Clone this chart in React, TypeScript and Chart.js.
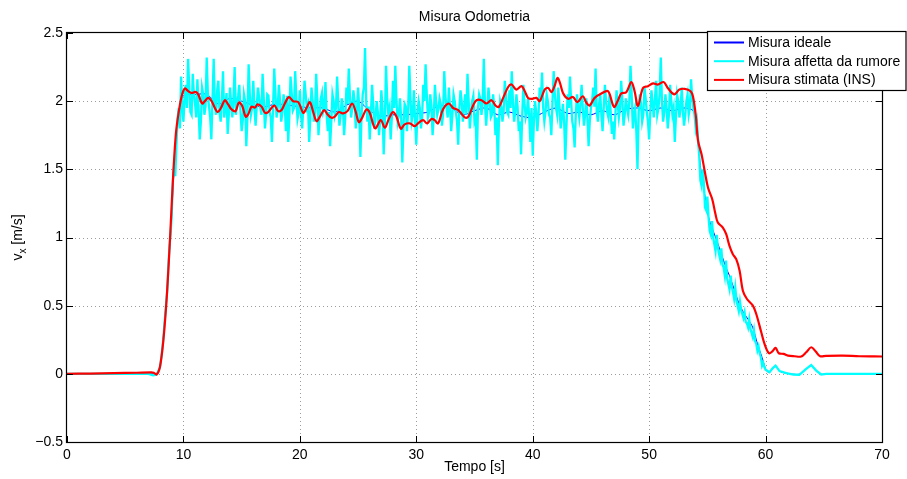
import { useEffect, useRef } from 'react';
import { Chart, registerables } from 'chart.js';

Chart.register(...registerables);

// Axis ticks
const xTicks = [0, 10, 20, 30, 40, 50, 60, 70];
const yTicks = [-0.5, 0, 0.5, 1, 1.5, 2, 2.5];
const yTickLabels = ['\u22120.5', '0', '0.5', '1', '1.5', '2', '2.5'];

const titleText = 'Misura Odometria';
const xTitle = 'Tempo [s]';
const seriesNames = ['Misura ideale', 'Misura affetta da rumore', 'Misura stimata (INS)'];
const seriesColors = ['#0000ff', '#00ffff', '#ff0000'];

// Ideal velocity [m/s]
const tempoIdeale = [
  0, 7.5, 7.8, 8.0, 8.2, 8.4, 8.6, 8.8, 9.0, 9.2, 9.4, 9.6, 9.8, 10.0, 10.5,
  11, 12, 13, 14, 15, 16, 17, 18, 19, 20, 21, 22, 23, 24, 25, 26, 27, 28, 29, 30,
  31, 32, 33, 34, 35, 36, 37, 38, 39, 40, 41, 42, 43, 44, 45, 46, 47, 48, 49, 50,
  51, 52, 53, 53.8, 54.0, 54.25, 54.45, 54.8, 55.1, 55.4, 55.8, 56.2, 56.6, 56.9,
  57.3, 57.7, 58.1, 58.5, 58.9, 59.3, 59.7, 60.06, 60.34, 60.86, 61.2, 61.77, 62.9,
  63.49, 63.92, 64.35, 64.78, 65.2, 70,
];
const misuraIdeale = [
  0, 0, 0.01, 0.06, 0.2, 0.39, 0.62, 0.9, 1.2, 1.5, 1.73, 1.9, 2.0, 2.04, 2.05,
  2.05, 2.05, 1.98, 2.02, 2.0, 1.97, 1.96, 1.98, 1.97, 1.96, 1.95, 1.95, 1.92, 1.97, 2.0, 1.93, 1.89, 1.9, 1.9, 1.91,
  1.92, 1.97, 1.95, 1.9, 1.93, 1.95, 1.9, 1.92, 1.89, 1.88, 1.92, 1.95, 1.91, 1.92, 1.9, 1.93, 1.9, 1.94, 1.95, 1.93,
  1.95, 1.93, 1.95, 1.93, 1.85, 1.65, 1.49, 1.3, 1.15, 1.07, 0.98, 0.88, 0.78, 0.72,
  0.62, 0.52, 0.45, 0.4, 0.34, 0.22, 0.12, 0.024, 0.012, 0.06, 0.02, 0.005, -0.003,
  0.037, 0.06, 0.024, -0.003, 0, 0,
];

// Noisy measurement [m/s]: before start, sampled run (every 0.1 s from 8 s), tail
const tempoRumoreInizio = [0, 2, 4, 6, 7.0, 7.4, 7.7];
const rumoreInizio = [0, 0, 0, 0, 0, -0.01, -0.005];
const rumoreT0 = 8.0;
const rumorePasso = 0.1;
const rumoreCampioni = [
  // 8.0 - 10.0
  0.05, 0.12, 0.19, 0.29, 0.40, 0.5, 0.60, 0.78, 0.93, 1.02, 1.17, 1.42, 1.55, 1.45, 1.68, 1.88, 1.95, 1.8, 2.18, 1.95, 1.85,
  // 10.1 - 12.0
  2.02, 2.12, 1.95, 2.31, 2.1, 1.92, 1.9, 2.2, 2.05, 1.98, 1.88, 2.16, 1.95, 1.72, 1.85, 2.1, 2.05, 1.9, 1.96, 2.32,
  // 12.1 - 14.0
  2.05, 1.96, 1.88, 1.72, 2.02, 2.31, 1.97, 1.9, 2.08, 2.15, 1.92, 1.85, 2.0, 2.22, 1.88, 1.95, 2.06, 1.76, 1.9, 2.1,
  // 14.1 - 16.0
  1.98, 1.88, 2.02, 2.25, 1.9, 1.98, 2.04, 2.12, 1.93, 1.78, 1.86, 2.05, 2.0, 1.67, 1.88, 2.27, 2.05, 1.9, 1.95, 2.15,
  // 16.1 - 18.0
  1.95, 1.82, 1.97, 2.1, 2.03, 1.95, 1.9, 2.2, 2.02, 1.8, 1.9, 2.05, 2.04, 1.92, 1.88, 1.7, 1.96, 2.24, 2.05, 1.88,
  // 18.1 - 20.0
  1.96, 2.12, 2.0, 1.85, 1.92, 2.05, 1.98, 1.78, 2.04, 1.7, 1.9, 2.18, 2.06, 1.93, 1.95, 2.22, 2.02, 1.87, 1.92, 2.08,
  // 20.1 - 22.0
  1.9, 1.8, 1.96, 2.15, 2.05, 1.95, 1.98, 1.7, 1.88, 2.1, 2.0, 1.85, 1.92, 2.2, 2.02, 1.75, 1.9, 2.02, 2.06, 1.92,
  // 22.1 - 24.0
  1.95, 2.14, 1.9, 1.78, 1.92, 1.67, 1.85, 2.05, 2.0, 1.9, 1.95, 2.18, 1.98, 1.82, 1.9, 2.02, 1.95, 1.75, 1.88, 2.1,
  // 24.1 - 26.0
  1.98, 2.24, 2.04, 1.88, 1.95, 2.08, 2.0, 1.8, 1.92, 2.1, 1.95, 1.59, 1.9, 2.05, 2.1, 2.39, 2.0, 1.85, 1.96, 1.72,
  // 26.1 - 28.0
  1.9, 2.12, 1.98, 1.8, 1.88, 2.0, 1.92, 1.75, 1.86, 2.08, 1.95, 1.61, 1.85, 2.26, 2.02, 1.9, 1.95, 1.72, 1.88, 2.15,
  // 28.1 - 30.0
  1.95, 2.26, 2.0, 1.85, 1.9, 2.02, 1.88, 1.55, 1.82, 1.98, 1.96, 1.78, 1.92, 2.26, 2.02, 1.85, 1.9, 2.08, 1.85, 1.68,
  // 30.1 - 32.0
  1.92, 2.0, 1.95, 1.8, 1.88, 2.12, 2.0, 2.27, 2.05, 1.88, 1.92, 2.05, 1.96, 1.75, 1.88, 2.12, 2.0, 1.9, 1.94, 2.02,
  // 32.1 - 34.0
  1.98, 1.82, 1.9, 2.22, 2.04, 1.95, 1.88, 2.1, 1.95, 1.78, 1.9, 2.05, 2.0, 1.92, 1.85, 1.68, 1.95, 2.08, 2.0, 1.85,
  // 34.1 - 36.0
  1.95, 2.05, 1.9, 2.2, 2.0, 1.8, 1.92, 2.0, 2.04, 1.85, 1.88, 1.57, 1.95, 2.05, 2.02, 1.9, 2.0, 2.31, 1.98, 1.82,
  // 36.1 - 38.0
  1.95, 2.1, 2.0, 1.88, 1.9, 2.05, 1.95, 1.75, 1.88, 1.53, 1.85, 2.0, 1.96, 1.85, 1.92, 2.15, 2.04, 1.92, 1.9, 2.08,
  // 38.1 - 40.0
  1.95, 2.22, 2.0, 1.85, 1.92, 2.05, 1.96, 1.78, 1.85, 1.61, 1.9, 2.12, 1.98, 1.88, 1.92, 2.02, 1.88, 1.7, 1.95, 1.6,
  // 40.1 - 42.0
  1.85, 2.0, 1.92, 1.78, 1.9, 2.1, 2.0, 2.21, 1.95, 1.85, 1.92, 2.05, 2.0, 1.9, 1.88, 1.75, 2.0, 2.22, 2.05, 1.95,
  // 42.1 - 44.0
  1.9, 2.1, 1.96, 1.8, 1.88, 1.98, 1.85, 1.57, 1.82, 2.05, 1.95, 2.18, 2.0, 1.85, 1.8, 1.66, 1.9, 2.05, 1.95, 1.88,
  // 44.1 - 46.0
  1.98, 2.12, 1.95, 1.82, 1.9, 2.02, 1.88, 1.67, 1.85, 1.95, 2.0, 2.1, 1.96, 2.24, 1.92, 1.85, 1.98, 2.05, 1.9, 1.78,
  // 46.1 - 48.0
  1.95, 2.12, 2.0, 1.92, 1.88, 2.05, 1.92, 1.76, 1.85, 1.72, 1.9, 2.08, 1.98, 1.88, 1.95, 2.15, 2.0, 1.82, 1.9, 2.02,
  // 48.1 - 50.0
  1.95, 1.9, 2.0, 2.26, 2.05, 1.8, 1.9, 1.95, 1.78, 1.5, 1.92, 2.05, 1.98, 1.85, 1.9, 2.1, 2.02, 1.92, 1.85, 1.72,
  // 50.1 - 52.0
  1.92, 2.08, 1.98, 1.88, 2.02, 2.15, 1.9, 1.95, 2.05, 2.32, 2.0, 1.85, 1.92, 2.05, 1.95, 1.8, 1.9, 2.12, 2.0, 1.9,
  // 52.1 - 54.0
  1.95, 1.7, 1.88, 2.05, 2.0, 1.88, 1.95, 2.1, 1.92, 1.82, 1.9, 2.0, 2.05, 1.9, 1.95, 2.16, 2.02, 1.95, 1.9, 1.8,
  // 54.1 - 60.0
  1.85, 1.72, 1.6, 1.42, 1.38, 1.5, 1.4, 1.22, 1.2, 1.3, 1.15, 1.05, 1.02, 1.12, 1.0, 0.95, 0.9, 1.02, 0.93, 0.88,
  0.84, 0.92, 0.8, 0.78, 0.72, 0.83, 0.7, 0.66, 0.62, 0.72, 0.64, 0.6, 0.55, 0.63, 0.54, 0.5, 0.46, 0.53, 0.47, 0.44,
  0.41, 0.45, 0.38, 0.37, 0.34, 0.4, 0.33, 0.3, 0.27, 0.32, 0.24, 0.22, 0.17, 0.2, 0.15, 0.12, 0.06, 0.08, 0.05, 0.03,
];
const tempoRumoreCoda = [60.34, 60.6, 60.86, 61.2, 61.77, 62.4, 62.9, 63.49, 63.92, 64.35, 64.78, 65.2, 70];
const rumoreCoda = [0.012, 0.04, 0.06, 0.02, 0.005, -0.005, -0.008, 0.037, 0.065, 0.024, -0.005, 0, 0];

// INS estimate [m/s]
const tempoStimata = [
  0, 2, 4, 6, 7.2, 7.45, 7.7, 7.98, 8.27, 8.55, 8.78, 8.98, 9.13, 9.35, 9.56, 9.85,
  10.13, 10.41, 10.7, 11.04, 11.27, 11.61, 11.84, 12.13, 12.42, 12.7, 12.93, 13.22,
  13.56, 13.84, 14.13, 14.48, 14.76, 15.05, 15.34, 15.56, 15.85, 16.14, 16.37, 16.71,
  17.0, 17.28, 17.8, 18.14, 18.43, 18.71, 19.05, 19.43, 19.86, 20.29, 20.57, 20.86,
  21.15, 21.43, 21.72, 22.09, 22.38, 22.72, 23.0, 23.35, 23.72, 24.09, 24.49, 24.78,
  25.07, 25.35, 25.72, 26.0, 26.3, 26.5, 26.95, 27.3, 27.64, 28.0, 28.3, 28.67, 29.0,
  29.44, 29.87, 30.15, 30.58, 30.93, 31.3, 31.58, 31.87, 32.3, 32.79, 33.17, 33.6,
  33.93, 34.22, 34.5, 34.88, 35.17, 35.6, 36.03, 36.46, 36.8, 37.09, 37.46, 37.89,
  38.18, 38.6, 39.04, 39.32, 39.6, 39.95, 40.32, 40.6, 41.03, 41.33, 41.61, 41.9,
  42.12, 42.32, 42.6, 43.03, 43.46, 43.83, 44.3, 44.6, 44.89, 45.32, 45.9, 46.47,
  46.98, 47.33, 47.6, 48.04, 48.47, 48.75, 49.04, 49.47, 49.9, 50.33, 50.76, 51.24,
  51.6, 52.15, 52.6, 53.05, 53.56, 53.76, 54.0, 54.2, 54.5, 54.77, 55.06, 55.42,
  55.7, 55.9, 56.33, 56.62, 56.9, 57.19, 57.48, 57.77, 58.05, 58.4, 58.91, 59.2,
  59.63, 59.91, 60.29, 60.58, 60.86, 61.14, 61.55, 61.92, 62.49, 63.06, 63.49,
  63.92, 64.29, 64.69, 65.2, 66.63, 68.06, 70,
];
const misuraStimata = [
  0, 0.002, 0.005, 0.008, 0.01, 0.008, -0.005, 0.05, 0.24, 0.54, 0.88, 1.22, 1.47, 1.76, 1.9, 2.036,
  2.093, 2.073, 2.06, 2.068, 2.05, 1.983, 2.0, 2.024, 2.0, 1.95, 1.92, 1.95,
  2.007, 1.976, 1.94, 1.927, 1.99, 1.965, 1.886, 1.903, 1.96, 1.953, 1.976, 1.96,
  1.915, 1.92, 1.968, 1.927, 1.935, 1.983, 2.03, 2.0, 1.993, 1.915, 1.95, 1.993,
  1.92, 1.853, 1.886, 1.935, 1.903, 1.878, 1.886, 1.92, 1.91, 1.927, 1.983, 1.927,
  1.846, 1.878, 1.94, 1.915, 1.83, 1.8, 1.861, 1.805, 1.87, 1.92, 1.886, 1.798, 1.83,
  1.837, 1.817, 1.837, 1.861, 1.837, 1.87, 1.861, 1.837, 1.94, 1.983, 1.95, 1.935,
  1.903, 1.878, 1.89, 1.968, 2.007, 2.007, 1.983, 2.007, 1.968, 1.958, 2.024, 2.104,
  2.122, 2.085, 2.11, 2.073, 2.024, 2.017, 2.024, 2.0, 2.085, 2.097, 2.066, 2.117,
  2.17, 2.14, 2.06, 2.017, 2.031, 1.993, 2.036, 1.99, 1.968, 2.024, 2.056, 2.073,
  1.958, 2.007, 2.056, 2.066, 2.14, 2.073, 1.965, 2.097, 2.11, 2.13, 2.122, 2.14,
  2.097, 2.05, 2.085, 2.09, 2.073, 2.036, 1.9, 1.71, 1.61, 1.488, 1.365, 1.28,
  1.17, 1.11, 1.073, 1.024, 0.939, 0.878, 0.841, 0.756, 0.61, 0.549, 0.5, 0.439,
  0.305, 0.22, 0.151, 0.165, 0.19, 0.151, 0.146, 0.134, 0.129, 0.127, 0.158,
  0.195, 0.165, 0.129, 0.132, 0.134, 0.129, 0.127,
];

const FONT = '"Liberation Sans", Arial, Helvetica, sans-serif';

function zip(xs: number[], ys: number[]) {
  return xs.map((x, i) => ({ x, y: ys[i] }));
}

function noisyPoints() {
  const pts = zip(tempoRumoreInizio, rumoreInizio);
  rumoreCampioni.forEach((v, i) => {
    pts.push({ x: +(rumoreT0 + i * rumorePasso).toFixed(2), y: v });
  });
  return pts.concat(zip(tempoRumoreCoda, rumoreCoda));
}

// MATLAB-like axes: dotted grid, boxed frame with inward ticks, legend and labels
const axesDecor = {
  id: 'axesDecor',
  beforeDatasetsDraw(chart: any) {
    const { ctx, chartArea: a, scales } = chart;
    ctx.save();
    ctx.strokeStyle = '#9c9c9c';
    ctx.lineWidth = 1;
    ctx.setLineDash([1, 3]);
    xTicks.forEach((v) => {
      if (v === xTicks[0] || v === xTicks[xTicks.length - 1]) return;
      const x = Math.round(scales.x.getPixelForValue(v)) + 0.5;
      ctx.beginPath();
      ctx.moveTo(x, a.top);
      ctx.lineTo(x, a.bottom);
      ctx.stroke();
    });
    yTicks.forEach((v) => {
      if (v === yTicks[0] || v === yTicks[yTicks.length - 1]) return;
      const y = Math.round(scales.y.getPixelForValue(v)) + 0.5;
      ctx.beginPath();
      ctx.moveTo(a.left, y);
      ctx.lineTo(a.right, y);
      ctx.stroke();
    });
    ctx.restore();
  },
  afterDraw(chart: any) {
    const { ctx, chartArea: a, scales, width } = chart;
    ctx.save();
    // frame
    ctx.strokeStyle = '#000';
    ctx.lineWidth = 1.2;
    ctx.setLineDash([]);
    ctx.strokeRect(a.left - 0.5, a.top - 0.5, a.right - a.left + 1, a.bottom - a.top + 1);
    // inward ticks
    const tl = 6;
    ctx.lineWidth = 1;
    xTicks.forEach((v) => {
      const x = Math.round(scales.x.getPixelForValue(v)) + 0.5;
      ctx.beginPath();
      ctx.moveTo(x, a.bottom);
      ctx.lineTo(x, a.bottom - tl);
      ctx.moveTo(x, a.top);
      ctx.lineTo(x, a.top + tl);
      ctx.stroke();
    });
    yTicks.forEach((v) => {
      const y = Math.round(scales.y.getPixelForValue(v)) + 0.5;
      ctx.beginPath();
      ctx.moveTo(a.left, y);
      ctx.lineTo(a.left + tl, y);
      ctx.moveTo(a.right, y);
      ctx.lineTo(a.right - tl, y);
      ctx.stroke();
    });

    // title
    ctx.fillStyle = '#000';
    ctx.font = `14px ${FONT}`;
    ctx.textAlign = 'center';
    ctx.textBaseline = 'middle';
    const cx = (a.left + a.right) / 2;
    ctx.fillText(titleText, cx, 17);
    // x axis title
    ctx.fillText(xTitle, cx, 467);

    // y axis title: v with subscript x, then unit
    ctx.save();
    ctx.translate(18, (a.top + a.bottom) / 2);
    ctx.rotate(-Math.PI / 2);
    ctx.textAlign = 'left';
    ctx.textBaseline = 'middle';
    const big = `14px ${FONT}`;
    const small = `10px ${FONT}`;
    ctx.font = big;
    const wv = ctx.measureText('v').width;
    const wr = ctx.measureText(' [m/s]').width;
    ctx.font = small;
    const wx = ctx.measureText('x').width;
    let px = -(wv + wx + wr) / 2;
    ctx.font = big;
    ctx.fillText('v', px, 0);
    px += wv;
    ctx.font = small;
    ctx.fillText('x', px, 5);
    px += wx;
    ctx.font = big;
    ctx.fillText(' [m/s]', px, 0);
    ctx.restore();

    // legend box
    const lx = 707.5;
    const ly = 31.5;
    const lw = width - 1 - lx;
    const lh = 59;
    ctx.fillStyle = '#fff';
    ctx.fillRect(lx, ly, lw, lh);
    ctx.strokeStyle = '#000';
    ctx.lineWidth = 1.2;
    ctx.strokeRect(lx, ly, lw, lh);
    ctx.font = `14px ${FONT}`;
    ctx.textAlign = 'left';
    ctx.textBaseline = 'middle';
    seriesNames.forEach((name, i) => {
      const y = 42.5 + i * 18.7;
      ctx.strokeStyle = seriesColors[i];
      ctx.lineWidth = 2;
      ctx.beginPath();
      ctx.moveTo(714, y);
      ctx.lineTo(744, y);
      ctx.stroke();
      ctx.fillStyle = '#000';
      ctx.fillText(name, 748, y + 0.5);
    });
    ctx.restore();
  },
};

export default function App() {
  const ref = useRef<HTMLCanvasElement | null>(null);

  useEffect(() => {
    document.body.style.margin = '0';
    const canvas = ref.current;
    if (!canvas) return;
    const chart = new Chart(canvas, {
      type: 'line',
      data: {
        datasets: [
          {
            label: seriesNames[2],
            data: zip(tempoStimata, misuraStimata),
            borderColor: seriesColors[2],
            borderWidth: 2.2,
            tension: 0.35,
            pointRadius: 0,
            order: 1,
          },
          {
            label: seriesNames[1],
            data: noisyPoints(),
            borderColor: seriesColors[1],
            borderWidth: 2.3,
            tension: 0,
            pointRadius: 0,
            order: 2,
          },
          {
            label: seriesNames[0],
            data: zip(tempoIdeale, misuraIdeale),
            borderColor: seriesColors[0],
            borderWidth: 1,
            tension: 0.3,
            pointRadius: 0,
            order: 3,
          },
        ],
      },
      options: {
        animation: false,
        responsive: false,
        events: [],
        layout: { padding: { top: 33, right: 25, left: 0, bottom: 0 } },
        plugins: {
          legend: { display: false },
          title: { display: false },
          tooltip: { enabled: false },
        },
        scales: {
          x: {
            type: 'linear',
            min: 0,
            max: 70,
            grid: { display: false, drawTicks: false },
            border: { display: false },
            afterBuildTicks: (s: any) => {
              s.ticks = xTicks.map((v) => ({ value: v }));
            },
            afterFit: (s: any) => {
              s.height = 37;
            },
            ticks: {
              padding: 5,
              color: '#000',
              maxRotation: 0,
              font: { family: FONT, size: 14 },
              callback: (v: any) => String(v),
            },
          },
          y: {
            type: 'linear',
            min: -0.5,
            max: 2.5,
            grid: { display: false, drawTicks: false },
            border: { display: false },
            afterBuildTicks: (s: any) => {
              s.ticks = yTicks.map((v) => ({ value: v }));
            },
            afterFit: (s: any) => {
              s.width = 67;
            },
            ticks: {
              padding: 4,
              color: '#000',
              font: { family: FONT, size: 14 },
              callback: (v: any) => {
                const i = yTicks.indexOf(Number(v));
                return i >= 0 ? yTickLabels[i] : '';
              },
            },
          },
        },
      },
      plugins: [axesDecor],
    });
    return () => chart.destroy();
  }, []);

  return (
    <div style={{ width: 907, height: 479 }}>
      <canvas ref={ref} width={907} height={479} style={{ display: 'block' }} />
    </div>
  );
}
